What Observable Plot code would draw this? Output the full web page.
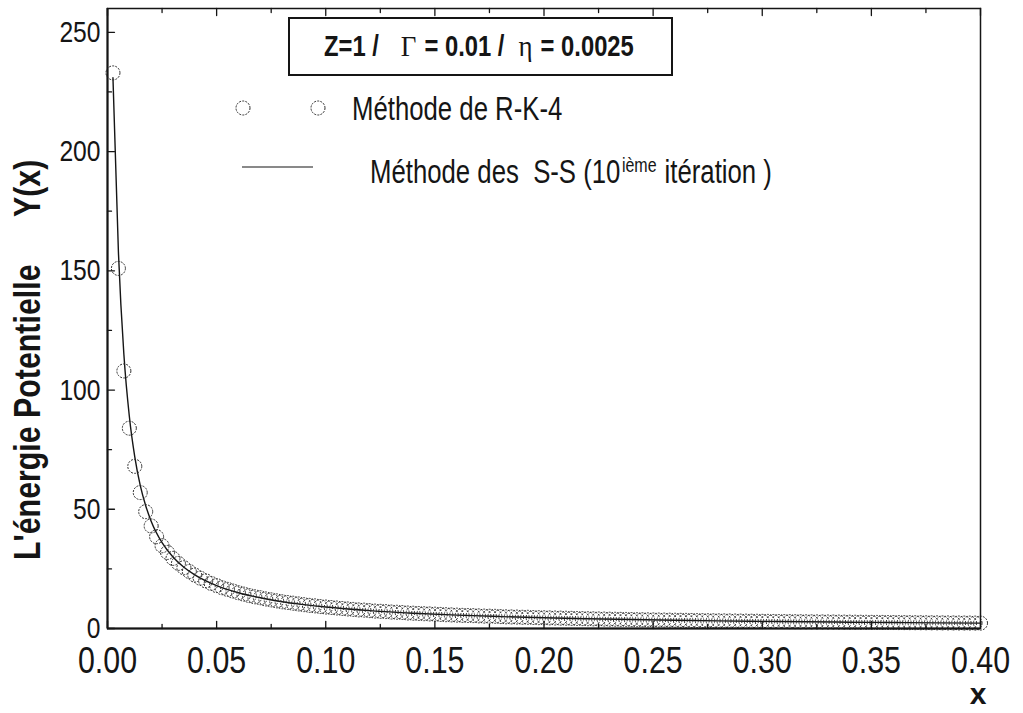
<!DOCTYPE html>
<html><head><meta charset="utf-8">
<script src="https://cdn.jsdelivr.net/npm/d3@7"></script>
<script src="https://cdn.jsdelivr.net/npm/@observablehq/plot@0.6"></script>
<style>html,body{margin:0;padding:0;background:#fff;}</style>
</head><body><div id="chart"></div>
<script>
// grid step of the R-K-4 solution (eta)
const eta = 0.0025;
// R-K-4 values, one per step x = eta, 2*eta, ... 0.40
const rk4Y = [
 233,151,108,84,68,57,49,43,38.5,34.7,
 31.9,29.4,27.3,25.5,23.9,22.4,21.1,20.0,18.9,18.0,
 17.1,16.4,15.7,15.0,14.4,13.8,13.3,12.9,12.4,12.0,
 11.6,11.2,10.9,10.6,10.3,10.0,9.7,9.5,9.2,9.0,
 8.8,8.6,8.4,8.2,8.0,7.8,7.7,7.5,7.3,7.2,
 7.1,6.9,6.8,6.7,6.5,6.4,6.3,6.2,6.1,6.0,
 5.9,5.8,5.7,5.6,5.5,5.45,5.4,5.3,5.2,5.15,
 5.1,5.0,4.9,4.85,4.8,4.7,4.7,4.6,4.55,4.5,
 4.45,4.4,4.35,4.3,4.25,4.2,4.15,4.1,4.05,4.0,
 3.95,3.9,3.87,3.83,3.8,3.75,3.7,3.67,3.64,3.6,
 3.56,3.53,3.5,3.46,3.43,3.4,3.36,3.33,3.3,3.27,
 3.24,3.21,3.19,3.16,3.13,3.1,3.08,3.05,3.03,3.0,
 2.98,2.95,2.93,2.9,2.88,2.86,2.83,2.81,2.79,2.77,
 2.75,2.73,2.71,2.69,2.67,2.65,2.63,2.61,2.59,2.57,
 2.55,2.54,2.52,2.5,2.48,2.47,2.45,2.43,2.42,2.4,
 2.38,2.37,2.35,2.34,2.32,2.31,2.29,2.28,2.26,2.25
];
// S-S (10th iteration) curve
const ssX = [0.0025,0.005,0.0075,0.01,0.0125,0.015,0.0175,0.02,0.025,0.03,0.035,0.04,0.05,0.06,0.07,0.08,0.09,0.10,0.12,0.14,0.16,0.18,0.20,0.22,0.24,0.26,0.28,0.30,0.32,0.34,0.36,0.38,0.40];
const ssY = [231,158,115,89,72,60,51.5,45,36,30,25.7,22.5,18,15,12.9,11.2,10,9,7.5,6.4,5.6,5,4.5,4.1,3.75,3.45,3.2,3.0,2.8,2.65,2.5,2.35,2.25];

const xTicks = [0,0.05,0.10,0.15,0.20,0.25,0.30,0.35,0.40];
const xMinor = [0.025,0.075,0.125,0.175,0.225,0.275,0.325,0.375];
const yTicks = [0,50,100,150,200,250];
const yMinor = [25,75,125,175,225];

const boxTitle = ["Z=1 /", "\u0393", "= 0.01 /", "\u03B7", "= 0.0025"];
const legendRK = "Méthode de R-K-4";
const legendSS = ["Méthode des  S-S (10", "ième", "itération )"];
const yTitle = ["L'énergie Potentielle", "Y(x)"];
const xTitle = "x";

const SANS = '"Liberation Sans",Arial,sans-serif';
const SERIF = '"Liberation Serif","Times New Roman",serif';

const rk4 = rk4Y.map((y, i) => ({x: (i + 1) * eta, y}));
const ss = ssX.map((x, i) => ({x, y: ssY[i]}));
const tick = {draw(ctx, l) { ctx.moveTo(0, 0); ctx.lineTo(0, -l); }};
const ink = "#151515";
const dotInk = "#2c2c2c";

const svg = Plot.plot({
  width: 1023, height: 713,
  marginLeft: 107, marginRight: 43, marginTop: 8, marginBottom: 85,
  x: {domain: [0, 0.4]},
  y: {domain: [0, 260]},
  marks: [
    Plot.line(ss, {x: "x", y: "y", stroke: ink, strokeWidth: 1.4, curve: "monotone-x"}),
    Plot.dot(rk4, {x: "x", y: "y", r: 7, stroke: dotInk, strokeWidth: 1, strokeDasharray: "2,1.2", fill: "none"}),
    Plot.frame({stroke: ink, strokeWidth: 1.5}),
    Plot.ruleX([0], {stroke: ink, strokeWidth: 2}),
    Plot.ruleY([0], {stroke: ink, strokeWidth: 2}),
    Plot.vector(xTicks, {x: d => d, frameAnchor: "bottom", length: 7, anchor: "start", shape: tick, stroke: ink, strokeWidth: 1.3}),
    Plot.vector(xMinor, {x: d => d, frameAnchor: "bottom", length: 4, anchor: "start", shape: tick, stroke: ink, strokeWidth: 1.3}),
    Plot.vector(xTicks, {x: d => d, frameAnchor: "top", rotate: 180, length: 7, anchor: "start", shape: tick, stroke: ink, strokeWidth: 1.3}),
    Plot.vector(xMinor, {x: d => d, frameAnchor: "top", rotate: 180, length: 4, anchor: "start", shape: tick, stroke: ink, strokeWidth: 1.3}),
    Plot.vector(yTicks, {y: d => d, frameAnchor: "left", rotate: 90, length: 7, anchor: "start", shape: tick, stroke: ink, strokeWidth: 1.3}),
    Plot.vector(yMinor, {y: d => d, frameAnchor: "left", rotate: 90, length: 4, anchor: "start", shape: tick, stroke: ink, strokeWidth: 1.3}),
    Plot.axisX({ticks: xTicks, tickSize: 0, tickPadding: 18, tickFormat: d3.format(".2f"), fontSize: 37, fontFamily: SANS, fill: ink, label: null}),
    Plot.axisY({ticks: yTicks, tickSize: 0, tickPadding: 7, fontSize: 30, fontFamily: SANS, fill: ink, label: null})
  ]
});
document.getElementById("chart").appendChild(svg);

// Arial-Narrow look: compress Liberation Sans horizontally
function narrow(node, k = 0.82) {
  const len = node.getComputedTextLength();
  node.setAttribute("textLength", (len * k).toFixed(1));
  node.setAttribute("lengthAdjust", "spacingAndGlyphs");
  return len * k;
}
d3.select(svg).selectAll('[aria-label="x-axis tick label"] text, [aria-label="y-axis tick label"] text').each(function() { narrow(this); });

const s = d3.select(svg);
const g = s.append("g").attr("fill", ink).attr("text-anchor", "start");

// a run of separate text pieces laid one after another, with a gap before each
function run(x, y, pieces) {
  let cx = x;
  pieces.forEach(p => {
    cx += p.gap || 0;
    const t = g.append("text").attr("x", cx).attr("y", y + (p.dy || 0))
      .attr("font-family", p.family || SANS).attr("font-size", p.size)
      .attr("font-weight", p.weight || "normal").style("white-space", "pre").text(p.text);
    cx += narrow(t.node(), p.k || 0.82);
  });
}

// legend box with parameters
g.append("rect").attr("x", 289).attr("y", 18).attr("width", 383).attr("height", 57)
  .attr("fill", "#fff").attr("stroke", ink).attr("stroke-width", 2);
const gaps = [0, 22, 8, 14, 8];
run(324, 56, boxTitle.map((p, i) => (i === 1 || i === 3)
  ? {text: p, size: 30, family: SERIF, k: 0.9, gap: gaps[i]}
  : {text: p, size: 29, weight: "bold", k: 0.82, gap: gaps[i]}));

// legend entries
[243, 318].forEach(cx => g.append("circle").attr("cx", cx).attr("cy", 108).attr("r", 7)
  .attr("fill", "none").attr("stroke", dotInk).attr("stroke-width", 1).attr("stroke-dasharray", "2,1.2"));
run(352, 120, [{text: legendRK, size: 33, k: 0.78}]);
g.append("line").attr("x1", 242).attr("x2", 313).attr("y1", 167).attr("y2", 167).attr("stroke", ink).attr("stroke-width", 1.2);
run(370, 183, [
  {text: legendSS[0], size: 33, k: 0.78},
  {text: legendSS[1], size: 20, k: 0.8, dy: -11, gap: 1.5},
  {text: legendSS[2], size: 33, k: 0.78, gap: 8}
]);

// axis titles
const yt1 = g.append("text").attr("transform", "translate(40,560) rotate(-90)").attr("font-family", SANS)
  .attr("font-weight", "bold").attr("font-size", 37).text(yTitle[0]);
narrow(yt1.node());
const yt2 = g.append("text").attr("transform", "translate(40,217) rotate(-90)").attr("font-family", SANS)
  .attr("font-weight", "bold").attr("font-size", 37).text(yTitle[1]);
narrow(yt2.node());
g.append("text").attr("x", 978).attr("y", 704).attr("text-anchor", "middle").attr("font-family", SANS)
  .attr("font-weight", "bold").attr("font-size", 30).text(xTitle);
</script>
</body></html>
